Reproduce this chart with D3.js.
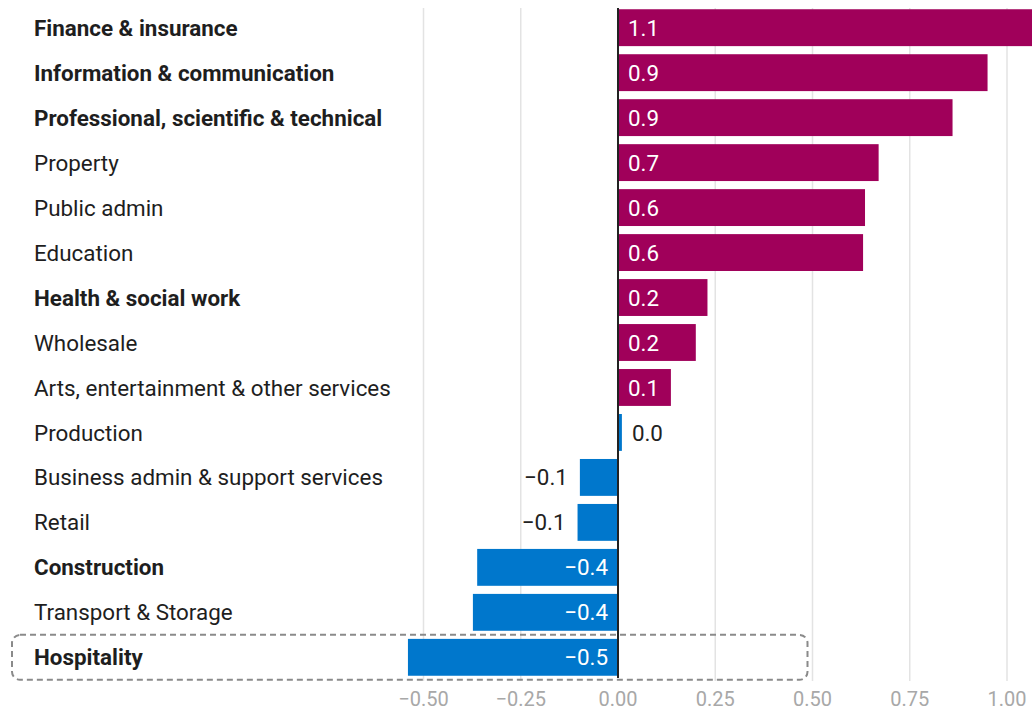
<!DOCTYPE html>
<html>
<head>
<meta charset="utf-8">
<script src="https://cdn.jsdelivr.net/npm/d3@7/dist/d3.min.js"></script>
<style>
  html, body { margin: 0; padding: 0; background: #fff; }
  svg { display: block; font-family: Roboto, "Noto Sans", sans-serif; }
</style>
</head>
<body>
<svg id="chart" width="1032" height="712"></svg>
<script>
// Change by industry (percentage points)
const sectors = [
  "Finance & insurance",
  "Information & communication",
  "Professional, scientific & technical",
  "Property",
  "Public admin",
  "Education",
  "Health & social work",
  "Wholesale",
  "Arts, entertainment & other services",
  "Production",
  "Business admin & support services",
  "Retail",
  "Construction",
  "Transport & Storage",
  "Hospitality"
];
const values = [1.1, 0.95, 0.86, 0.67, 0.635, 0.63, 0.23, 0.2, 0.136, 0.01, -0.098, -0.104, -0.362, -0.373, -0.54];
const boldSectors = [
  "Finance & insurance",
  "Information & communication",
  "Professional, scientific & technical",
  "Health & social work",
  "Construction",
  "Hospitality"
];
const highlighted = ["Hospitality"];
const xTicks = [-0.5, -0.25, 0, 0.25, 0.5, 0.75, 1.0];

const data = sectors.map((s, i) => ({ sector: s, value: values[i] }));

const svg = d3.select("#chart");

const x = d3.scaleLinear().domain([0, 1]).range([618, 1007]);
const y = d3.scaleBand().domain(sectors).range([7, 678]).paddingInner(0.18).paddingOuter(0.05);

const posColor = "#a0005a";
const negColor = "#0077cc";
const fmt = d3.format(".1f");
const tickFmt = d3.format(".2f");
const labelSize = 22.4;

// Vertical gridlines
svg.append("g")
  .selectAll("line")
  .data(xTicks.filter(t => t !== 0))
  .join("line")
  .attr("x1", d => x(d)).attr("x2", d => x(d))
  .attr("y1", 8).attr("y2", 681)
  .attr("stroke", "#e3e3e3")
  .attr("stroke-width", 1.5);

// Highlight box around the selected row
const hb = svg.append("g");
highlighted.forEach(s => {
  hb.append("rect")
    .attr("x", 12)
    .attr("y", y(s) - 4)
    .attr("width", x(0.5) - 5 - 12)
    .attr("height", y.bandwidth() + 8)
    .attr("rx", 8)
    .attr("fill", "none")
    .attr("stroke", "#8a8a8a")
    .attr("stroke-width", 2)
    .attr("stroke-dasharray", "6,4");
});

// Bars
svg.append("g")
  .selectAll("rect")
  .data(data)
  .join("rect")
  .attr("x", d => x(Math.min(0, d.value)))
  .attr("y", d => y(d.sector))
  .attr("width", d => Math.abs(x(d.value) - x(0)))
  .attr("height", y.bandwidth())
  .attr("fill", d => d.value > 0.05 ? posColor : negColor);

// Zero axis line
svg.append("line")
  .attr("x1", x(0)).attr("x2", x(0))
  .attr("y1", 8).attr("y2", 678)
  .attr("stroke", "#222")
  .attr("stroke-width", 2);

// Category labels
svg.append("g")
  .selectAll("text")
  .data(data)
  .join("text")
  .attr("x", 34)
  .attr("y", d => y(d.sector) + y.bandwidth() / 2)
  .attr("dy", "0.36em")
  .attr("font-size", labelSize)
  .attr("font-weight", d => boldSectors.includes(d.sector) ? 700 : 400)
  .attr("fill", "#1e1e1e")
  .text(d => d.sector);

// Value labels: inside the bar when it is wide enough, otherwise outside
const minInside = 50;
svg.append("g")
  .selectAll("text")
  .data(data)
  .join("text")
  .attr("y", d => y(d.sector) + y.bandwidth() / 2)
  .attr("dy", "0.36em")
  .attr("font-size", labelSize)
  .each(function (d) {
    const w = Math.abs(x(d.value) - x(0));
    const inside = w >= minInside;
    const t = d3.select(this);
    if (d.value >= 0) {
      t.attr("x", inside ? x(0) + 10 : x(d.value) + 10)
       .attr("text-anchor", "start");
    } else {
      t.attr("x", inside ? x(0) - 10 : x(d.value) - 12)
       .attr("text-anchor", "end");
    }
    t.attr("fill", inside ? "#ffffff" : "#222");
  })
  .text(d => fmt(d.value));

// X axis tick labels
svg.append("g")
  .selectAll("text")
  .data(xTicks)
  .join("text")
  .attr("x", d => x(d))
  .attr("y", 699)
  .attr("dy", "0.36em")
  .attr("text-anchor", "middle")
  .attr("font-size", 20)
  .attr("fill", "#a8a8a8")
  .text(d => tickFmt(d));
</script>
</body>
</html>
